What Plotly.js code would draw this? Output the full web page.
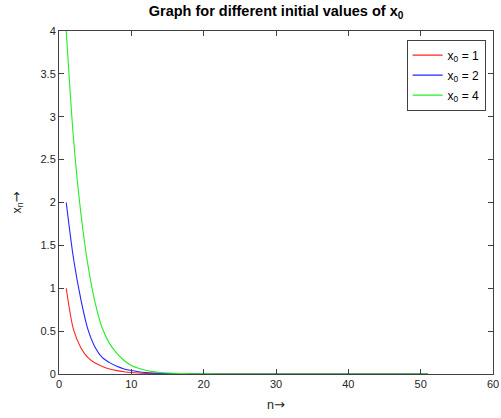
<!DOCTYPE html>
<html>
<head>
<meta charset="utf-8">
<script src="https://cdn.plot.ly/plotly-3.0.1.min.js"></script>
<style>html,body{margin:0;padding:0;background:#fff;}#chart{width:501px;height:418px;}</style>
</head>
<body>
<div id="chart"></div>
<script>
// iteration index n = 1..51
var nValues = [];
for (var i = 1; i <= 51; i++) nValues.push(i);

// values
var seriesX0_1 = [1.0, 0.52, 0.31, 0.19, 0.128, 0.088, 0.058, 0.039, 0.026, 0.017,
  0.011, 0.0075, 0.005, 0.0033, 0.0022, 0.0015, 0.001, 0.0007, 0.0005, 0.0003,
  0.0002, 0.0001, 0.0001, 0, 0, 0, 0, 0, 0, 0,
  0, 0, 0, 0, 0, 0, 0, 0, 0, 0,
  0, 0, 0, 0, 0, 0, 0, 0, 0, 0, 0];
var seriesX0_2 = [2.0, 1.35, 0.88, 0.52, 0.31, 0.19, 0.133, 0.089, 0.059, 0.04,
  0.027, 0.018, 0.012, 0.008, 0.0053, 0.0035, 0.0023, 0.0015, 0.001, 0.0007,
  0.0005, 0.0003, 0.0002, 0.0001, 0.0001, 0, 0, 0, 0, 0,
  0, 0, 0, 0, 0, 0, 0, 0, 0, 0,
  0, 0, 0, 0, 0, 0, 0, 0, 0, 0, 0];
var seriesX0_4 = [4.0, 2.75, 1.89, 1.27, 0.83, 0.53, 0.354, 0.24, 0.158, 0.10,
  0.066, 0.043, 0.028, 0.018, 0.012, 0.008, 0.005, 0.0033, 0.0022, 0.0014,
  0.0009, 0.0006, 0.0004, 0.0003, 0.0002, 0.0001, 0.0001, 0, 0, 0,
  0, 0, 0, 0, 0, 0, 0, 0, 0, 0,
  0, 0, 0, 0, 0, 0, 0, 0, 0, 0, 0];

var seriesNames = ["x<sub>0</sub> = 1", "x<sub>0</sub> = 2", "x<sub>0</sub> = 4"];
var seriesColors = ["#ff2424", "#2424ff", "#24ee24"];
var allSeries = [seriesX0_1, seriesX0_2, seriesX0_4];

var xTicks = [0, 10, 20, 30, 40, 50, 60];
var yTicks = [0, 0.5, 1, 1.5, 2, 2.5, 3, 3.5, 4];
var yTickText = ["0", "0.5", "1", "1.5", "2", "2.5", "3", "3.5", "4"];

var traces = allSeries.map(function (vals, k) {
  return {
    x: nValues, y: vals, type: "scatter", mode: "lines",
    name: seriesNames[k], legendgroup: "g" + k,
    line: {color: seriesColors[k], width: 1.1, shape: "spline", smoothing: 0.8}
  };
});

var arrow = '<span style="font-family:DejaVu Sans;font-size:13px">→</span>';
var axisColor = "#404040";
var layout = {
  width: 501, height: 418,
  paper_bgcolor: "#ffffff", plot_bgcolor: "#ffffff",
  margin: {l: 59, r: 8, t: 31, b: 44},
  font: {family: "Liberation Sans, Arial, sans-serif", size: 11, color: "#262626"},
  title: {
    text: "<b>Graph for different initial values of x<sub>0</sub></b>",
    font: {size: 14.5, color: "#000000"},
    x: 0.551, xanchor: "center", y: 0.985, yanchor: "top"
  },
  xaxis: {
    range: [0, 60], tickvals: xTicks, ticktext: xTicks.map(String),
    showline: true, mirror: "ticks", linecolor: axisColor, linewidth: 1,
    ticks: "inside", ticklen: 5, tickcolor: axisColor,
    showgrid: false, zeroline: false,
    title: {text: "n" + arrow, font: {size: 12.5, color: "#262626"}, standoff: 11}
  },
  yaxis: {
    range: [0, 4], tickvals: yTicks, ticktext: yTickText,
    showline: true, mirror: "ticks", linecolor: axisColor, linewidth: 1,
    ticks: "inside", ticklen: 5, tickcolor: axisColor,
    showgrid: false, zeroline: false,
    title: {text: "x<sub>n</sub>" + arrow, font: {size: 12.5, color: "#262626"}, standoff: 16}
  },
  legend: {
    x: 0.983, xanchor: "right", y: 0.975, yanchor: "top",
    bgcolor: "#ffffff", bordercolor: "#404040", borderwidth: 1,
    font: {size: 12, color: "#000000"},
    tracegroupgap: 1, itemwidth: 30
  },
  showlegend: true
};

Plotly.newPlot("chart", traces, layout, {staticPlot: true, displayModeBar: false});
</script>
</body>
</html>
